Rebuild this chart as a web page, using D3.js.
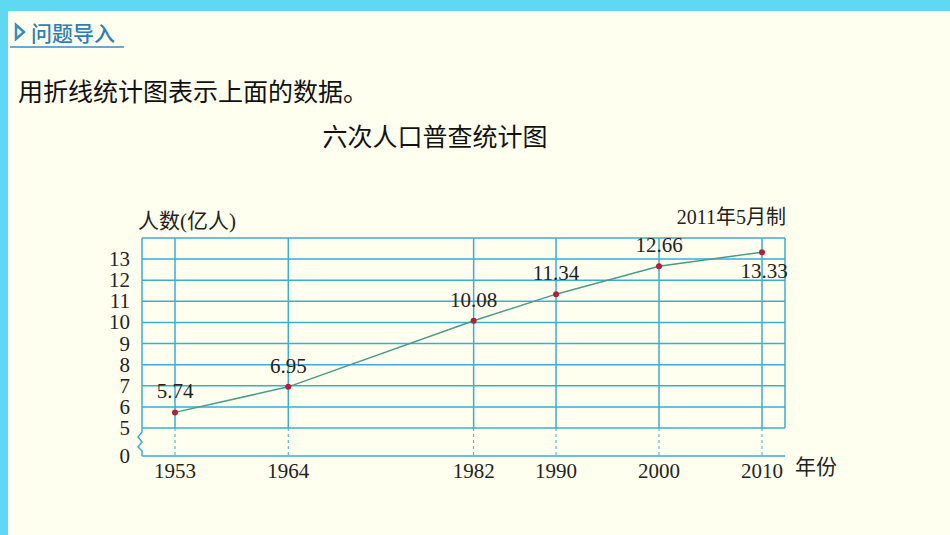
<!DOCTYPE html><html><head><meta charset="utf-8"><script src="https://cdn.jsdelivr.net/npm/d3@7"></script>
<style>body{margin:0;background:#5fd8f2}</style></head><body><svg id="s" width="950" height="535"></svg>
<script>
const years=[1953,1964,1982,1990,2000,2010];
const values=[5.74,6.95,10.08,11.34,12.66,13.33];
const yTicks=[5,6,7,8,9,10,11,12,13];
const svg=d3.select("#s");
svg.append("rect").attr("x",8).attr("y",11).attr("width",942).attr("height",524).attr("fill","#fffff0");
const cn="'Noto Sans CJK SC',sans-serif", sf="'Liberation Serif',serif";
svg.append("path").attr("d","M16,25 L24,32 L16,39 Z").attr("fill","none").attr("stroke","#3a8bbf").attr("stroke-width",2.5);
svg.append("text").attr("x",31).attr("y",41).text("问题导入").attr("font-family",cn).attr("font-size",21).attr("font-weight",500).attr("fill","#2f7fb0");
svg.append("line").attr("x1",10).attr("x2",124).attr("y1",47).attr("y2",47).attr("stroke","#3a8bbf").attr("stroke-width",1.5);
svg.append("text").attr("x",18).attr("y",101).text("用折线统计图表示上面的数据。").attr("font-family",cn).attr("font-size",25).attr("fill","#111");
svg.append("text").attr("x",435).attr("y",146).attr("text-anchor","middle").text("六次人口普查统计图").attr("font-family",cn).attr("font-size",25).attr("fill","#111");
const L=142,R=785,T=238,B5=428,B0=456;
const x=d3.scaleLinear().domain([1953,2010]).range([175,762]);
const y=d3.scaleLinear().domain([5,14]).range([B5,T]);
const gc="#3aaed0";
const g=svg.append("g");
yTicks.concat([14]).forEach(v=>g.append("line").attr("x1",L).attr("x2",R).attr("y1",y(v)).attr("y2",y(v)).attr("stroke",gc).attr("stroke-width",1.5));
g.append("line").attr("x1",L).attr("x2",R).attr("y1",B0).attr("y2",B0).attr("stroke",gc).attr("stroke-width",1.5);
g.append("line").attr("x1",R).attr("x2",R).attr("y1",T).attr("y2",B5).attr("stroke",gc).attr("stroke-width",1.5);
g.append("path").attr("d",`M${L},${T}V432 l-4,5 l4,5 l-4,5 l4,4 V${B0}`).attr("fill","none").attr("stroke",gc).attr("stroke-width",1.5);
years.forEach(yr=>{
 g.append("line").attr("x1",x(yr)).attr("x2",x(yr)).attr("y1",T).attr("y2",B5).attr("stroke",gc).attr("stroke-width",1.5);
 g.append("line").attr("x1",x(yr)).attr("x2",x(yr)).attr("y1",B5).attr("y2",B0).attr("stroke",gc).attr("stroke-width",1).attr("stroke-dasharray","3,3");
 g.append("text").attr("x",x(yr)).attr("y",478).attr("text-anchor","middle").text(yr).attr("font-family",sf).attr("font-size",21).attr("fill","#222");
});
yTicks.forEach(v=>g.append("text").attr("x",130).attr("y",y(v)+7).attr("text-anchor","end").text(v).attr("font-family",sf).attr("font-size",21).attr("fill","#222"));
g.append("text").attr("x",130).attr("y",B0+7).attr("text-anchor","end").text(0).attr("font-family",sf).attr("font-size",21).attr("fill","#222");
const line=d3.line().x((d,i)=>x(years[i])).y(d=>y(d));
g.append("path").attr("d",line(values)).attr("fill","none").attr("stroke","#4a9a8a").attr("stroke-width",1.5);
values.forEach((v,i)=>{
 g.append("circle").attr("cx",x(years[i])).attr("cy",y(v)).attr("r",3).attr("fill","#b0203a");
 const last=i===values.length-1;
 g.append("text").attr("x",x(years[i])+(last?2:0)).attr("y",last?y(v)+26:y(v)-14).attr("text-anchor","middle").text(v.toFixed(2)).attr("font-family",sf).attr("font-size",21).attr("fill","#222");
});
svg.append("text").attr("x",138).attr("y",228).text("人数(亿人)").attr("font-family",sf+","+cn).attr("font-size",21).attr("fill","#222");
svg.append("text").attr("x",786).attr("y",224).attr("text-anchor","end").text("2011年5月制").attr("font-family",sf+","+cn).attr("font-size",20).attr("fill","#222");
svg.append("text").attr("x",795).attr("y",474).text("年份").attr("font-family",cn).attr("font-size",21).attr("fill","#222");
</script></body></html>
